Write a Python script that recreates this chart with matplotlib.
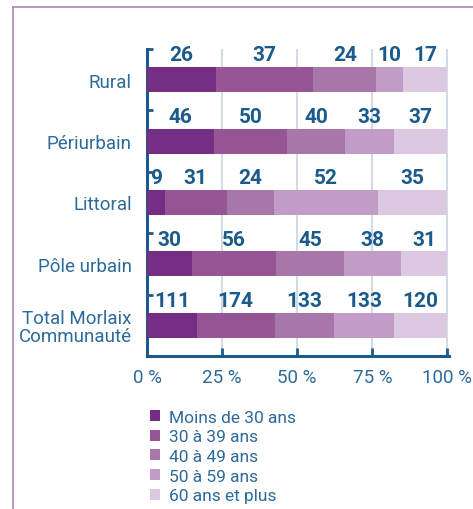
import numpy as np
import matplotlib.pyplot as plt
from matplotlib.lines import Line2D
from matplotlib.patches import Patch

plt.rcParams['font.family'] = ['Roboto', 'DejaVu Sans']

territoires = ['Rural', 'Périurbain', 'Littoral', 'Pôle urbain', 'Total Morlaix\nCommunauté']
tranches = ['Moins de 30 ans', '30 à 39 ans', '40 à 49 ans', '50 à 59 ans', '60 ans et plus']

moins_30 = [26, 46, 9, 30, 111]
de_30_39 = [37, 50, 31, 56, 174]
de_40_49 = [24, 40, 24, 45, 133]
de_50_59 = [10, 33, 52, 38, 133]
plus_60 = [17, 37, 35, 31, 120]

couleurs = ['#762E84', '#965595', '#A877A9', '#C19CC6', '#DCC9E1']
bleu = '#1B5B8B'
bleu_txt = '#2C6A9A'

counts = np.array([moins_30, de_30_39, de_40_49, de_50_59, plus_60], dtype=float)
pct = counts / counts.sum(axis=0) * 100

fig = plt.figure(figsize=(4.73, 5.1), dpi=100)
ax = fig.add_axes([147/473, 1 - 357/510, 302/473, 307/510])

y = np.arange(len(territoires))
left = np.zeros(len(territoires))
for i in range(len(tranches)):
    ax.barh(y, pct[i], left=left, height=0.41, color=couleurs[i], zorder=3)
    for j in range(len(territoires)):
        ax.annotate(str(int(counts[i, j])), (left[j] + pct[i, j] / 2, y[j] - 0.205),
                    xytext=(0, 2), textcoords='offset points', ha='center', va='bottom',
                    fontsize=15, fontweight='bold', color=bleu, zorder=4)
    left += pct[i]

ax.set_xlim(0, 100.5)
ax.set_ylim(4.5, -0.5)
ax.set_xticks([0, 25, 50, 75, 100])
ax.set_xticklabels(['0 %', '25 %', '50 %', '75 %', '100 %'])
ax.set_yticks(y)
ax.set_yticklabels(territoires, linespacing=1.0)
ax.set_yticks(np.arange(-0.5, 5, 1), minor=True)
for xv in [25, 50, 75, 100]:
    ax.axvline(xv, color='#D3DBE8', lw=1.5, zorder=1)

for s in ['top', 'right']:
    ax.spines[s].set_visible(False)
for s in ['left', 'bottom']:
    ax.spines[s].set_color(bleu)
    ax.spines[s].set_linewidth(2.2)
ax.tick_params(axis='y', which='major', direction='in', length=7, width=2, color=bleu,
               labelsize=13.5, labelcolor=bleu_txt, pad=11)
ax.tick_params(axis='y', which='minor', direction='in', length=4, width=2, color=bleu)
ax.tick_params(axis='x', direction='in', length=6, width=2, color=bleu,
               labelsize=13.5, labelcolor=bleu_txt, pad=9)

# cadre
fig.add_artist(Line2D([13/473, 1], [1 - 8/510, 1 - 8/510], color='#B681BD', lw=1.2))
fig.add_artist(Line2D([13/473, 13/473], [0, 1 - 8/510], color='#B681BD', lw=1.2))

handles = [Patch(facecolor=c) for c in couleurs]
fig.legend(handles, tranches, loc='upper left', bbox_to_anchor=(141/473, 1 - 402/510),
           frameon=False, fontsize=12.5, labelcolor=bleu_txt, handlelength=0.6,
           handleheight=0.6, handletextpad=0.5, labelspacing=0.27, borderpad=0)

fig.savefig('out.png', dpi=100)
